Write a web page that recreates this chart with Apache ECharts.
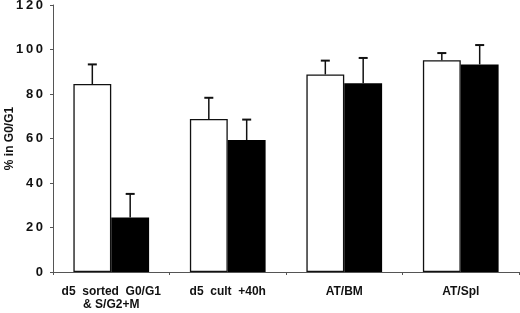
<!DOCTYPE html>
<html>
<head>
<meta charset="utf-8">
<script src="https://cdn.jsdelivr.net/npm/echarts@6/dist/echarts.min.js"></script>
<style>html,body{margin:0;padding:0;background:#fff}#c{width:520px;height:313px}</style>
</head>
<body>
<div id="c"></div>
<script>
var categories = ['d5  sorted  G0/G1\n& S/G2+M', 'd5  cult  +40h', 'AT/BM', 'AT/Spl'];
var whiteValues = [84.5, 68.8, 88.8, 95.2];
var whiteErrors = [8.8, 9.5, 6.2, 3.2];
var blackValues = [24.5, 59.3, 84.8, 93.3];
var blackErrors = [10.6, 9.2, 11.4, 8.7];
var yTicks = [0, 20, 40, 60, 80, 100, 120];

var catGap = 0.35;
function errSeries(values, errors, side) {
  return {
    type: 'custom',
    z: 5,
    data: values.map(function (v, i) { return [i, v, errors[i]]; }),
    encode: { x: 0, y: 1 },
    renderItem: function (params, api) {
      var i = api.value(0), v = api.value(1), e = api.value(2);
      var catW = api.size([1, 0])[0];
      var bw = catW * (1 - catGap) / 2;
      var base = api.coord([i, v]);
      var top = api.coord([i, v + e]);
      var cx = base[0] + side * bw / 2;
      return {
        type: 'group',
        children: [
          { type: 'line', shape: { x1: cx, y1: base[1], x2: cx, y2: top[1] }, style: { stroke: '#111', lineWidth: 1.5 } },
          { type: 'line', shape: { x1: cx - 4.5, y1: top[1], x2: cx + 4.5, y2: top[1] }, style: { stroke: '#111', lineWidth: 2 } }
        ]
      };
    }
  };
}

var chart = echarts.init(document.getElementById('c'));
chart.setOption({
  animation: false,
  backgroundColor: '#fff',
  grid: { left: 53, right: 1, top: 5, bottom: 41, containLabel: false, outerBoundsMode: 'none' },
  xAxis: {
    type: 'category',
    data: categories,
    axisLine: { lineStyle: { color: '#555', width: 1 } },
    axisTick: { show: true, length: 3, alignWithLabel: false, lineStyle: { color: '#555' } },
    axisLabel: {
      interval: 0, margin: 13, color: '#111',
      fontFamily: 'Liberation Sans, Arial, sans-serif', fontWeight: 'bold', fontSize: 12, lineHeight: 13
    }
  },
  yAxis: {
    type: 'value',
    min: 0, max: 120, interval: 20,
    name: '% in G0/G1',
    nameLocation: 'middle',
    nameGap: 37,
    nameMoveOverlap: false,
    nameTextStyle: { color: '#111', fontFamily: 'Liberation Sans, Arial, sans-serif', fontWeight: 'bold', fontSize: 12 },
    splitLine: { show: false },
    axisLine: { show: true, lineStyle: { color: '#555', width: 1 } },
    axisTick: { show: true, length: 3, lineStyle: { color: '#555' } },
    axisLabel: {
      margin: 10, color: '#111',
      fontFamily: 'Liberation Sans, Arial, sans-serif', fontWeight: 'bold', fontSize: 13,
      formatter: function (v) { return yTicks.indexOf(v) >= 0 ? String(v).split('').join('\u2009') : ''; }
    }
  },
  series: [
    {
      type: 'bar', data: whiteValues, barGap: '0%', barCategoryGap: '35%',
      itemStyle: { color: '#fff', borderColor: '#111', borderWidth: 1.3 }
    },
    {
      type: 'bar', data: blackValues, barGap: '0%', barCategoryGap: '35%',
      itemStyle: { color: '#000', borderColor: '#000', borderWidth: 0 }
    },
    errSeries(whiteValues, whiteErrors, -1),
    errSeries(blackValues, blackErrors, 1)
  ]
});
</script>
</body>
</html>
